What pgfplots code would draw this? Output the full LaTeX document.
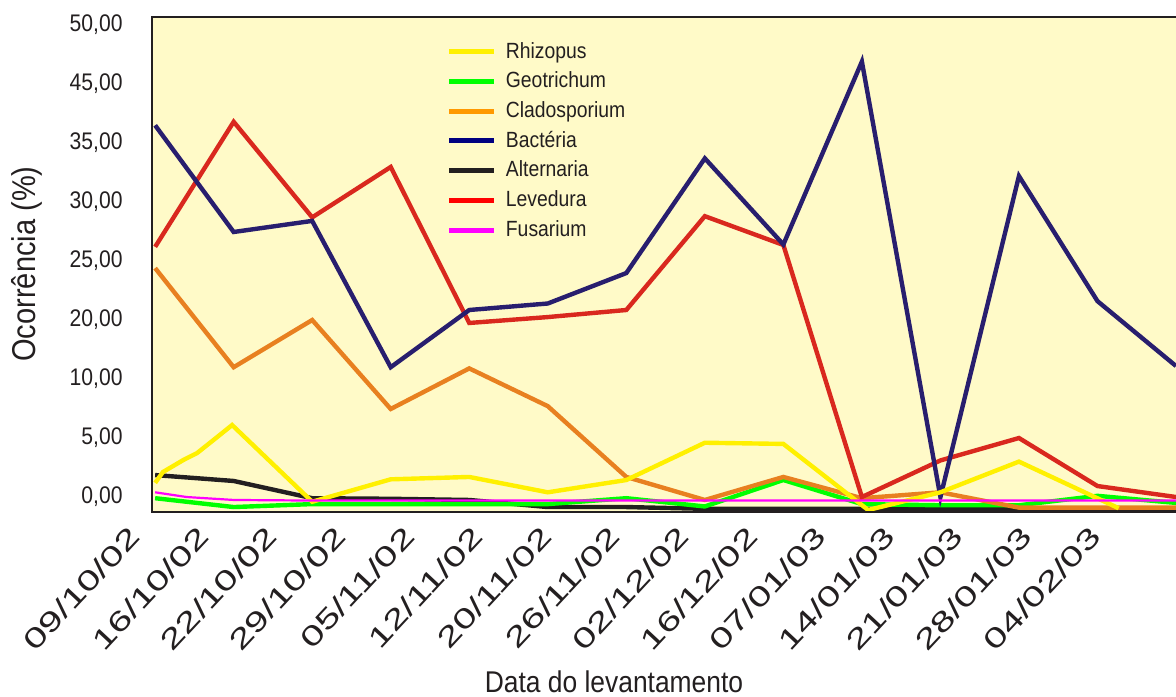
\documentclass[border=0pt]{standalone}
\usepackage{fontspec}
\setmainfont{Liberation Sans}[FakeStretch=0.88]
\newfontfamily\tickfont{Liberation Sans}
\usepackage{pgfplots}
\pgfplotsset{compat=1.18}
\definecolor{bg}{RGB}{255,250,200}
\definecolor{txt}{RGB}{35,31,32}
\definecolor{rhiz}{RGB}{255,240,0}
\definecolor{geot}{RGB}{0,255,0}
\definecolor{clad}{RGB}{232,128,32}
\definecolor{cladleg}{RGB}{255,153,0}
\definecolor{bact}{RGB}{40,30,110}
\definecolor{bactleg}{RGB}{0,0,128}
\definecolor{alte}{RGB}{35,31,32}
\definecolor{leve}{RGB}{217,40,30}
\definecolor{leveleg}{RGB}{255,0,0}
\definecolor{fusa}{RGB}{255,0,255}
\begin{document}
\begin{tikzpicture}
\begin{axis}[
  name=ax,
  scale only axis,
  width=512pt, height=247.5pt,
  xmin=-0.04, xmax=13.0,
  ymin=-1.27, ymax=40.68,
  axis line style={draw=none},
  axis background/.style={fill=bg},
  major tick length=0pt,
  ytick={0,5,10,15,20,25,30,35,40},
  yticklabels={{0,00},{5,00},{10,00},{20,00},{25,00},{30,00},{35,00},{45,00},{50,00}},
  yticklabel style={font=\fontsize{12}{14}\selectfont, text=txt, anchor=east, inner sep=0pt, xshift=-14.5pt},
  xtick={0.102,0.9755,1.849,2.7225,3.596,4.4695,5.343,6.2165,7.090,7.9635,8.837,9.7105,10.584,11.4575,12.331},
  xticklabels={09/10/02,16/10/02,22/10/02,29/10/02,05/11/02,12/11/02,20/11/02,26/11/02,02/12/02,16/12/02,07/01/03,14/01/03,21/01/03,28/01/03,04/02/03},
  xticklabel style={font=\tickfont\fontsize{14}{16}\selectfont, text=txt, anchor=north east, inner sep=0pt, xshift=-18pt, yshift=-6pt, cm={0.975,1.045,-0.731,0.682,(0pt,0pt)}},
  /pgf/number format/assume math mode=true,
  legend style={draw=none, fill=none, at={(0.288,0.9596)}, anchor=north west, inner sep=0pt, outer sep=0pt,
    row sep=0pt, font=\fontsize{11}{13}\selectfont, text=txt,
    nodes={inner sep=0pt, text height=10.5pt, text depth=4.35pt, anchor=west}},
  legend image code/.code={\draw[#1] (0pt,0pt) -- (22.5pt,0pt); \path (27pt,0pt);},
  legend cell align=left,
]
\addlegendimage{rhiz, line width=2.5pt}
\addlegendentry{Rhizopus}
\addlegendimage{geot, line width=2.5pt}
\addlegendentry{Geotrichum}
\addlegendimage{cladleg, line width=2.5pt}
\addlegendentry{Cladosporium}
\addlegendimage{bactleg, line width=2.5pt}
\addlegendentry{Bactéria}
\addlegendimage{alte, line width=2.5pt}
\addlegendentry{Alternaria}
\addlegendimage{leveleg, line width=2.5pt}
\addlegendentry{Levedura}
\addlegendimage{fusa, line width=2.5pt}
\addlegendentry{Fusarium}

% Alternaria
\addplot[forget plot, alte, line width=2.2pt] coordinates {(0,1.86)(1,1.36)(2,-0.1)(3,-0.15)(4,-0.25)(5,-0.85)(6,-0.85)(7,-1.0)(8,-1.0)(9,-1.0)(10,-1.0)(11,-1.0)(12,-1.0)(13,-1.0)};
% Geotrichum
\addplot[forget plot, geot, line width=2.2pt] coordinates {(0,-0.1)(1,-0.85)(2,-0.6)(3,-0.6)(4,-0.6)(5,-0.6)(6,-0.1)(7,-0.8)(8,1.44)(9,-0.6)(10,-0.7)(11,-0.7)(12,0.1)(13,-0.5)};
% Cladosporium
\addplot[forget plot, clad, line width=2.2pt] coordinates {(0,19.4)(1,11.0)(2,15.0)(3,7.46)(4,10.9)(5,7.7)(6,1.7)(7,-0.25)(8,1.7)(9,-0.1)(10,0.4)(11,-0.9)(12,-0.9)(13,-0.9)};
% Levedura
\addplot[forget plot, leve, line width=2.2pt] coordinates {(0,21.2)(1,31.8)(2,23.7)(3,27.97)(4,14.75)(5,15.25)(6,15.85)(7,23.8)(8,21.36)(9,0)(10,3.1)(11,5.0)(12,0.93)(13,0)};
% Bacteria
\addplot[forget plot, bact, line width=2.2pt] coordinates {(0,31.5)(1,22.46)(2,23.4)(3,11.0)(4,15.85)(5,16.4)(6,18.98)(7,28.7)(8,21.4)(9,36.9)(10,0)(11,27.2)(12,16.6)(13,11.1)};
% Rhizopus
\addplot[forget plot, rhiz, line width=2.2pt] coordinates {(0,1.2)(0.10,2.12)(0.36,3.14)(0.535,3.73)(0.79,5.08)(0.98,6.1)(2,-0.4)(3,1.5)(4,1.7)(5,0.4)(6,1.44)(7,4.6)(8,4.5)(9.08,-1.1)(10,0.4)(11,3.0)(12.27,-0.95)};
% Fusarium
\addplot[forget plot, fusa, line width=1.1pt] coordinates {(0,0.4)(0.4,0.0)(1,-0.25)(2,-0.3)(3,-0.3)(4,-0.3)(5,-0.3)(6,-0.3)(7,-0.3)(8,-0.3)(9,-0.3)(10,-0.3)(11,-0.3)(12,-0.3)(13,-0.3)};
\end{axis}
\draw[txt, line width=1.4pt] (ax.south east) -- (ax.south west) -- (ax.north west) -- (ax.north east);
\node[rotate=90, text=txt, font=\fontsize{16.5}{19}\selectfont] at ([shift={(-62.5pt,124pt)}]ax.south west) {Ocorrência (\%)};
\node[text=txt, font=\fontsize{15}{18}\selectfont] at ([shift={(231pt,-85pt)}]ax.south west) {Data do levantamento};
\pgfresetboundingbox
\path[use as bounding box] ([shift={(-76pt,-92pt)}]ax.south west) rectangle ([shift={(0pt,8.5pt)}]ax.north east);
\end{tikzpicture}
\end{document}
